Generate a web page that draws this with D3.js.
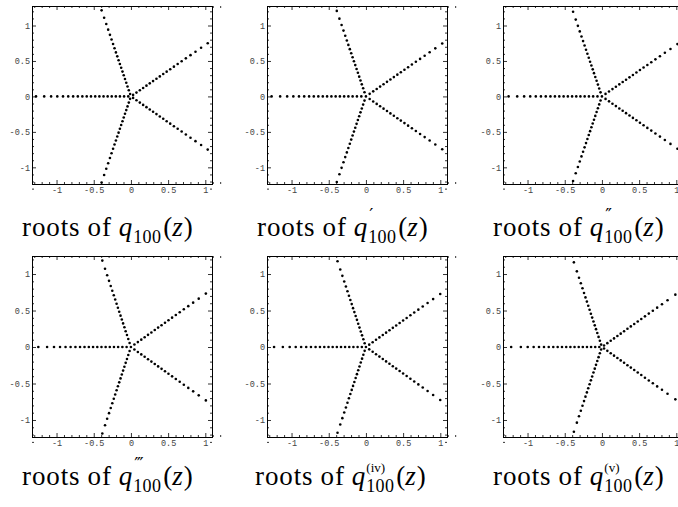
<!DOCTYPE html>
<html>
<head>
<meta charset="utf-8">
<script src="https://cdn.jsdelivr.net/npm/d3@7"></script>
<style>
  body { margin: 0; background: #fff; }
</style>
</head>
<body>
<div id="svgContainer"></div>
<script>
// ray directions (degrees) of the 5-fold root pattern
const rayAngles = [180, 108, 36, -36, -108]

// distances from the origin of the roots along each ray
const radiiQ0 = [0.036, 0.092, 0.148, 0.203, 0.258, 0.313, 0.368, 0.424, 0.480, 0.537, 0.594, 0.653, 0.714, 0.777, 0.843, 0.913, 0.990, 1.073, 1.166, 1.276]
const radiiQ1 = [0.062, 0.121, 0.179, 0.236, 0.293, 0.350, 0.407, 0.464, 0.522, 0.580, 0.640, 0.701, 0.764, 0.830, 0.900, 0.976, 1.059, 1.153, 1.268]
const radiiQ2 = [0.060, 0.118, 0.175, 0.232, 0.289, 0.345, 0.401, 0.458, 0.515, 0.573, 0.632, 0.692, 0.755, 0.820, 0.889, 0.964, 1.046, 1.139, 1.255]
const radiiQ3 = [0.058, 0.115, 0.172, 0.228, 0.284, 0.340, 0.396, 0.452, 0.509, 0.566, 0.624, 0.684, 0.746, 0.811, 0.879, 0.953, 1.034, 1.127, 1.245]
const radiiQ4 = [0.055, 0.112, 0.168, 0.224, 0.280, 0.335, 0.391, 0.447, 0.503, 0.560, 0.618, 0.677, 0.739, 0.803, 0.871, 0.944, 1.025, 1.117, 1.235]
const radiiQ5 = [0.035, 0.090, 0.146, 0.201, 0.257, 0.312, 0.368, 0.424, 0.480, 0.537, 0.595, 0.654, 0.715, 0.779, 0.846, 0.918, 0.998, 1.090, 1.220]
const allRadii = [radiiQ0, radiiQ1, radiiQ2, radiiQ3, radiiQ4, radiiQ5]

// root at z = 0 (derivatives 1..4)
const originRoot = [false, true, true, true, true, false]

// derivative marks in the captions
const derivMarks = ['', '\u2032', '\u2033', '\u2034', '(iv)', '(v)']

const majorTicks = [-1, -0.5, 0, 0.5, 1]
const minorTicks = [-1.3, -1.2, -1.1, -0.9, -0.8, -0.7, -0.6, -0.4, -0.3, -0.2, -0.1,
                    0.1, 0.2, 0.3, 0.4, 0.6, 0.7, 0.8, 0.9, 1.1, 1.2]

const width = 678,
  height = 507
const colLeft = [32, 267, 503]
const rowTop = [6, 256]
const rowH = [178, 181]
const plotW = 180
const xDomain = [-1.33, 1.09]
const yDomains = [[-1.235, 1.275], [-1.233, 1.247]]
const labelLeft = [[22, 257, 493], [22, 255, 493]]
const labelBase = [236, 485]

const svg = d3.select('#svgContainer')
              .append('svg')
              .attr('width', width)
              .attr('height', height)
              .style('background-color', '#fff')

const tickFmt = (d) => String(d)

function styleAxis(g) {
  g.select('.domain').remove()
  g.selectAll('line').attr('stroke', '#000').attr('stroke-width', 0.8)
  g.selectAll('text')
   .attr('font-family', "'Liberation Mono', monospace")
   .attr('font-size', 8.5)
   .attr('fill', '#444')
}

function drawLabel(g, x0, y0, mark) {
  let x = x0
  const piece = (txt, size, italic, dy, spacing, family) => {
    const t = g.append('text')
               .attr('x', x)
               .attr('y', y0 + dy)
               .attr('font-family', family || "'Liberation Serif', serif")
               .attr('font-size', size)
               .attr('font-style', italic ? 'italic' : 'normal')
               .attr('letter-spacing', spacing)
               .attr('fill', '#000')
               .text(txt)
    return t.node().getComputedTextLength()
  }
  x += piece('roots', 27, false, 0, 0.9) + 7
  x += piece('of', 27, false, 0, 0.9) + 7
  x += piece('q', 27, true, 0, 0) + 1
  const wSub = piece('100', 18, false, 7, 0.3)
  let wSup = 0
  if (mark !== '') {
    const primes = mark.length === 1 && mark !== 'v'
    if (primes) {
      x += 1
      wSup = piece(mark, 18, false, -15, 0, "'DejaVu Sans', sans-serif")
      x -= 1
    } else {
      wSup = piece(mark, 13, false, -13, 0)
    }
  }
  x += Math.max(wSub, wSup) + 2
  x += piece('(', 27, false, 0, 0)
  x += piece('z', 27, true, 0, 0) + 1
  piece(')', 27, false, 0, 0)
}

allRadii.forEach((radii, i) => {
  const row = Math.floor(i / 3),
    col = i % 3
  const left = colLeft[col],
    top = rowTop[row],
    h = rowH[row]

  const xScale = d3.scaleLinear()
                   .domain(xDomain)
                   .range([left, left + plotW])
  const yScale = d3.scaleLinear()
                   .domain(yDomains[row])
                   .range([top + h, top])

  const panel = svg.append('g').attr('class', 'panel')

  // minor + major ticks on all four sides, pointing inward
  panel.append('g')
       .attr('transform', 'translate(0,' + (top + h) + ')')
       .call(d3.axisBottom(xScale).tickValues(minorTicks).tickSize(-2).tickFormat(''))
       .call(styleAxis)
  panel.append('g')
       .attr('transform', 'translate(0,' + (top + h) + ')')
       .call(d3.axisBottom(xScale).tickValues(majorTicks).tickSize(-4).tickPadding(3).tickFormat(tickFmt))
       .call(styleAxis)
  panel.append('g')
       .attr('transform', 'translate(0,' + top + ')')
       .call(d3.axisTop(xScale).tickValues(minorTicks).tickSize(-2).tickFormat(''))
       .call(styleAxis)
  panel.append('g')
       .attr('transform', 'translate(0,' + top + ')')
       .call(d3.axisTop(xScale).tickValues(majorTicks).tickSize(-4).tickFormat(''))
       .call(styleAxis)
  panel.append('g')
       .attr('transform', 'translate(' + left + ',0)')
       .call(d3.axisLeft(yScale).tickValues(minorTicks).tickSize(-2).tickFormat(''))
       .call(styleAxis)
  panel.append('g')
       .attr('transform', 'translate(' + left + ',0)')
       .call(d3.axisLeft(yScale).tickValues(majorTicks).tickSize(-4).tickPadding(2).tickFormat(tickFmt))
       .call(styleAxis)
  panel.append('g')
       .attr('transform', 'translate(' + (left + plotW) + ',0)')
       .call(d3.axisRight(yScale).tickValues(minorTicks).tickSize(-2).tickFormat(''))
       .call(styleAxis)
  panel.append('g')
       .attr('transform', 'translate(' + (left + plotW) + ',0)')
       .call(d3.axisRight(yScale).tickValues(majorTicks).tickSize(-4).tickFormat(''))
       .call(styleAxis)

  panel.append('rect')
       .attr('x', left + 0.5)
       .attr('y', top + 0.5)
       .attr('width', plotW)
       .attr('height', h)
       .attr('fill', 'none')
       .attr('stroke', '#000')
       .attr('stroke-width', 1)

  // roots
  const pts = []
  rayAngles.forEach((a) => {
    radii.forEach((r) => {
      pts.push({ re: r * Math.cos(a * Math.PI / 180), im: r * Math.sin(a * Math.PI / 180) })
    })
  })
  if (originRoot[i]) pts.push({ re: 0, im: 0 })

  panel.selectAll('circle')
       .data(pts)
       .enter()
       .append('circle')
       .attr('cx', (d) => xScale(d.re))
       .attr('cy', (d) => yScale(d.im))
       .attr('r', 1.3)
       .attr('fill', '#000')

  drawLabel(svg.append('g'), labelLeft[row][col], labelBase[row], derivMarks[i])
})
</script>
</body>
</html>
